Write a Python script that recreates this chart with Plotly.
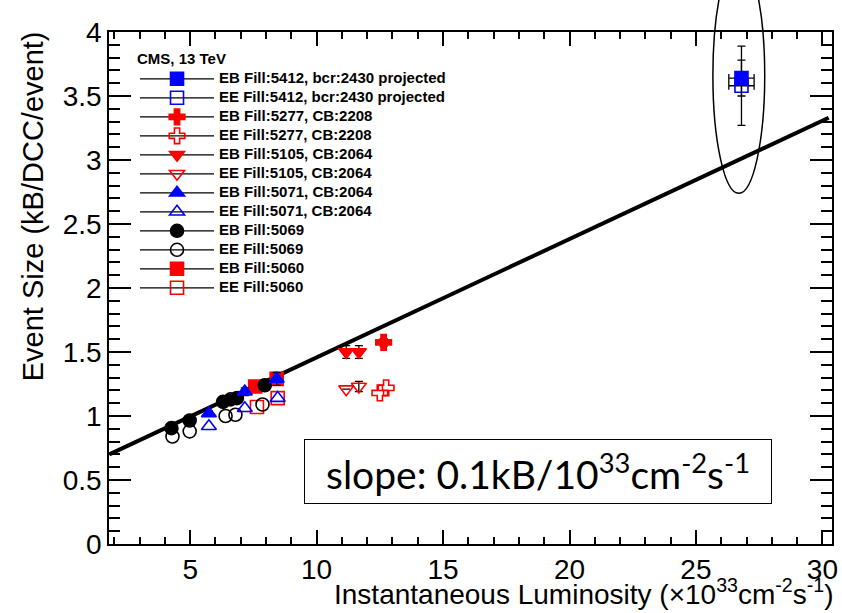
import plotly.graph_objects as go

# ---------------- data ----------------
x_5412_eb = [26.8]; y_5412_eb = [3.64]; ey_5412_eb = [0.14]; ex_5412 = [0.5]
x_5412_ee = [26.8]; y_5412_ee = [3.58]; ey_5412_ee = [0.31]
x_5277_eb = [12.65]; y_5277_eb = [1.575]; ey_5277_eb = [0.03]
x_5277_ee = [12.5, 12.75]; y_5277_ee = [1.18, 1.22]
x_5105_eb = [11.17, 11.67]; y_5105_eb = [1.50, 1.50]; ey_5105_eb = [0.05, 0.05]
x_5105_ee = [11.17, 11.67]; y_5105_ee = [1.21, 1.23]; ey_5105_ee = [0.0, 0.04]
x_5071_eb = [5.74, 7.16, 8.42]; y_5071_eb = [1.02, 1.19, 1.29]; ey_5071_eb = [0.02, 0.03, 0.05]
x_5071_ee = [5.74, 7.16, 8.46]; y_5071_ee = [0.92, 1.06, 1.14]
x_5069_eb = [4.26, 4.98, 6.3, 6.6, 6.85, 7.95]; y_5069_eb = [0.905, 0.965, 1.11, 1.13, 1.14, 1.24]
x_5069_ee = [4.3, 4.98, 6.4, 6.79, 7.86]; y_5069_ee = [0.84, 0.88, 1.0, 1.01, 1.09]
x_5060_eb = [7.57, 8.42]; y_5060_eb = [1.23, 1.29]
x_5060_ee = [7.64, 8.46]; y_5060_ee = [1.07, 1.14]

fit_x = [1.8, 30.25]
fit_y = [0.70, 3.33]

x_range = [1.79, 30.38]
y_range = [0.0, 4.0]

ellipse_x = [25.67, 27.72]
ellipse_y = [2.74, 4.58]

BLUE = "rgb(0,0,255)"
RED = "rgb(255,0,0)"
BLACK = "rgb(0,0,0)"

series = [
    # name, x, y, ey, ex, symbol, color
    ("EB Fill:5412, bcr:2430 projected", x_5412_eb, y_5412_eb, ey_5412_eb, ex_5412, "square", BLUE),
    ("EE Fill:5412, bcr:2430 projected", x_5412_ee, y_5412_ee, ey_5412_ee, ex_5412, "square-open", BLUE),
    ("EB Fill:5277, CB:2208", x_5277_eb, y_5277_eb, ey_5277_eb, None, "cross", RED),
    ("EE Fill:5277, CB:2208", x_5277_ee, y_5277_ee, None, None, "cross-open", RED),
    ("EB Fill:5105, CB:2064", x_5105_eb, y_5105_eb, ey_5105_eb, None, "triangle-down", RED),
    ("EE Fill:5105, CB:2064", x_5105_ee, y_5105_ee, ey_5105_ee, None, "triangle-down-open", RED),
    ("EB Fill:5071, CB:2064", x_5071_eb, y_5071_eb, ey_5071_eb, None, "triangle-up", BLUE),
    ("EE Fill:5071, CB:2064", x_5071_ee, y_5071_ee, None, None, "triangle-up-open", BLUE),
    ("EB Fill:5069", x_5069_eb, y_5069_eb, None, None, "circle", BLACK),
    ("EE Fill:5069", x_5069_ee, y_5069_ee, None, None, "circle-open", BLACK),
    ("EB Fill:5060", x_5060_eb, y_5060_eb, None, None, "square", RED),
    ("EE Fill:5060", x_5060_ee, y_5060_ee, None, None, "square-open", RED),
]

fig = go.Figure()

# fit line
fig.add_trace(go.Scatter(x=fit_x, y=fit_y, mode="lines",
                         line=dict(color="black", width=4), showlegend=False,
                         hoverinfo="skip"))

MSIZE = 13
# data traces, drawn from the bottom of the legend upwards (ROOT order)
for name, xs, ys, ey, ex, sym, col in reversed(series):
    tr = dict(x=xs, y=ys, mode="markers", name=name, showlegend=False,
              marker=dict(symbol=sym, size=MSIZE, color=col,
                          line=dict(color=col, width=1.6)))
    if ey is not None:
        tr["error_y"] = dict(type="data", array=ey, visible=True,
                             color="black", thickness=1.3, width=4)
    if ex is not None:
        tr["error_x"] = dict(type="data", array=ex, visible=True,
                             color="black", thickness=1.3, width=4)
    fig.add_trace(go.Scatter(**tr))

# legend entries (ROOT style: line through the marker)
for name, xs, ys, ey, ex, sym, col in series:
    fig.add_trace(go.Scatter(x=[None], y=[None], mode="lines+markers",
                             name='<span style="font-size:15px">' + name + "</span>",
                             line=dict(color="black", width=1.3),
                             marker=dict(symbol=sym, size=MSIZE, color=col,
                                         line=dict(color=col, width=1.6))))

def px_paper(v, r):
    return (v - r[0]) / (r[1] - r[0])

fig.add_shape(type="circle", xref="paper", yref="paper",
              x0=px_paper(ellipse_x[0], x_range), x1=px_paper(ellipse_x[1], x_range),
              y0=px_paper(ellipse_y[0], y_range), y1=px_paper(ellipse_y[1], y_range),
              line=dict(color="black", width=1.5), layer="above")

FONT = "Liberation Sans, Arial, Helvetica, sans-serif"

fig.add_annotation(xref="paper", yref="paper", x=0.594, y=0.142,
                   text="slope: 0.1kB/10<sup>33</sup>cm<sup>-2</sup>s<sup>-1</sup>",
                   showarrow=False, font=dict(family="Lato, Carlito, sans-serif", size=39, color="black"),
                   bordercolor="black", borderwidth=1, bgcolor="white",
                   width=464, height=61, xanchor="center", yanchor="middle")

fig.add_annotation(xref="paper", yref="paper", x=1.0045, y=-0.094,
                   text="Instantaneous Luminosity (×10<sup>33</sup>cm<sup>-2</sup>s<sup>-1</sup>)",
                   showarrow=False, xanchor="right", yanchor="middle",
                   font=dict(family=FONT, size=28, color="black"))

fig.add_annotation(xref="paper", yref="paper", x=-0.1047, y=1.006,
                   text="Event Size (kB/DCC/event)", textangle=-90,
                   showarrow=False, xanchor="center", yanchor="top",
                   font=dict(family=FONT, size=29, color="black"))

axis_common = dict(showline=True, linecolor="black", linewidth=1.5, mirror="ticks",
                   ticks="inside", tickcolor="black", tickwidth=1.5,
                   showgrid=False, zeroline=False,
                   tickfont=dict(family=FONT, size=28, color="black"))

fig.update_xaxes(range=x_range, tick0=0, dtick=5, ticklen=14,
                 minor=dict(ticks="inside", ticklen=7, dtick=1, tick0=0,
                            tickcolor="black", tickwidth=1.5, showgrid=False),
                 **axis_common)
fig.update_yaxes(range=y_range, tick0=0, dtick=0.5, ticklen=22,
                 minor=dict(ticks="inside", ticklen=11, dtick=0.1, tick0=0,
                            tickcolor="black", tickwidth=1.5, showgrid=False),
                 **axis_common)

fig.update_layout(
    width=842, height=613,
    margin=dict(l=109, r=4, t=32, b=69),
    paper_bgcolor="white", plot_bgcolor="white",
    showlegend=True,
    legend=dict(x=0.036, y=0.975, xanchor="left", yanchor="top",
                bgcolor="rgba(0,0,0,0)", itemwidth=74,
                font=dict(family=FONT, size=12, color="black", weight="bold"),
                title=dict(text="<b>CMS, 13 TeV</b>",
                           font=dict(family=FONT, size=15, color="black"))),
)

fig.write_html("out.html")
